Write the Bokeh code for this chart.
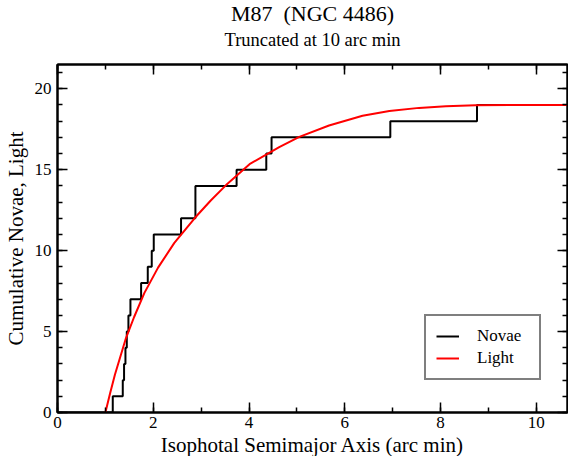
from bokeh.plotting import figure
from bokeh.models import (LinearAxis, SingleIntervalTicker, Title, Legend, LegendItem,
                          Range1d, CustomLabelingPolicy, CustomJSTickFormatter)
from bokeh.embed import file_html
from bokeh.resources import INLINE

# Cumulative novae: radius (arc min) at which each count is reached
novae_x = [1.154, 1.363, 1.39, 1.419, 1.447, 1.481, 1.523, 1.746, 1.885, 1.968,
           2.01, 2.58, 2.88, 2.88, 3.74, 4.36, 4.47, 6.95, 8.76]
novae_n = [1, 2, 3, 4, 5, 6, 7, 8, 9, 10,
           11, 12, 13, 14, 15, 16, 17, 18, 19]

# Cumulative light curve (scaled)
light_x = [1.0, 1.1, 1.2, 1.43, 1.6, 1.815, 2.1, 2.44, 2.88, 3.2, 3.52, 4.01,
           4.63, 5.05, 5.67, 6.37, 6.93, 7.55, 8.11, 8.73, 9.5, 11.0]
light_y = [0.0, 1.2, 2.35, 4.6, 5.9, 7.39, 8.95, 10.48, 12.06, 13.1, 14.05, 15.34,
           16.4, 17.03, 17.73, 18.33, 18.63, 18.82, 18.92, 18.98, 19.0, 19.0]

x_start, x_end = 0.0, 10.65
y_start, y_end = 0.0, 21.5

title_text = "M87\u00a0\u00a0(NGC 4486)"
subtitle_text = "Truncated at 10 arc min"
xlabel_text = "Isophotal Semimajor Axis (arc min)"
ylabel_text = "Cumulative Novae, Light"

FONT = "Liberation Serif"

p = figure(width=568, height=456, output_backend="svg", toolbar_location=None,
           x_range=Range1d(x_start, x_end), y_range=Range1d(y_start, y_end),
           min_border_left=50, min_border_right=1, min_border_top=0, min_border_bottom=0,
           x_axis_location=None, y_axis_location=None,
           title=title_text)
p.grid.visible = False
p.outline_line_color = "black"
p.outline_line_width = 2
p.background_fill_color = "white"
p.border_fill_color = "white"

p.title.text_font = FONT
p.title.text_font_size = "22px"
p.title.text_font_style = "normal"
p.title.text_color = "black"
p.title.align = "center"
p.title.standoff = -4

hide_labels = CustomLabelingPolicy(code="""
    for (const i of indices) indices.unset(i)
    return indices
""")

def style_axis(ax, labels=True):
    ax.axis_line_width = 2
    ax.axis_line_color = "black"
    ax.major_tick_in = 10
    ax.major_tick_out = 0
    ax.minor_tick_in = 5
    ax.minor_tick_out = 0
    ax.major_tick_line_width = 1.5
    ax.minor_tick_line_width = 1.5
    ax.major_tick_line_color = "black"
    ax.minor_tick_line_color = "black"
    ax.major_label_text_font = FONT
    ax.major_label_text_font_size = "17px"
    ax.major_label_text_color = "black"
    ax.axis_label_text_font = FONT
    ax.axis_label_text_font_size = "21px"
    ax.axis_label_text_font_style = "normal"
    ax.axis_label_text_color = "black"
    if not labels:
        ax.formatter = CustomJSTickFormatter(code="return ''")
        ax.major_label_policy = hide_labels
        ax.major_label_standoff = 0
        ax.axis_label_standoff = 0

# mirror axes first (innermost)
xt = LinearAxis(ticker=SingleIntervalTicker(interval=2, num_minor_ticks=2))
style_axis(xt, labels=False)
p.add_layout(xt, "above")

yr = LinearAxis(ticker=SingleIntervalTicker(interval=5, num_minor_ticks=5))
style_axis(yr, labels=False)
p.add_layout(yr, "right")

# invisible spacer between the frame and the subtitle
spacer = LinearAxis(ticker=SingleIntervalTicker(interval=2, num_minor_ticks=0))
style_axis(spacer, labels=False)
spacer.axis_line_color = None
spacer.major_tick_line_color = None
spacer.minor_tick_line_color = None
spacer.major_tick_in = 0
spacer.minor_tick_in = 0
spacer.major_tick_out = 11
p.add_layout(spacer, "above")

p.add_layout(Title(text=subtitle_text, align="center", text_font=FONT,
                   text_font_size="18.5px", text_font_style="normal", text_color="black",
                   standoff=8), "above")

xb = LinearAxis(ticker=SingleIntervalTicker(interval=2, num_minor_ticks=2))
style_axis(xb)
xb.major_label_standoff = 4
p.add_layout(xb, "below")
p.add_layout(Title(text=xlabel_text, align="center", text_font=FONT,
                   text_font_size="21px", text_font_style="normal", text_color="black",
                   standoff=0), "below")

yl = LinearAxis(ticker=SingleIntervalTicker(interval=5, num_minor_ticks=5),
                axis_label=ylabel_text)
style_axis(yl)
yl.major_label_standoff = 6
yl.axis_label_standoff = 4
p.add_layout(yl, "left")

step_x = [0.0] + novae_x + [11.0]
step_y = [0] + novae_n + [novae_n[-1]]
r_nov = p.step(step_x, step_y, mode="after", line_color="black", line_width=2)
r_light = p.line(light_x, light_y, line_color="red", line_width=2)

legend = Legend(items=[LegendItem(label="Novae", renderers=[r_nov]),
                       LegendItem(label="Light", renderers=[r_light])],
                location=(367, 32), padding=10, spacing=2, margin=0,
                glyph_width=23, glyph_height=20, label_height=20, label_width=52,
                label_standoff=18, label_text_font=FONT, label_text_font_size="17px",
                label_text_color="black",
                border_line_color="black", border_line_width=2,
                background_fill_alpha=1.0)
p.add_layout(legend, "center")

open("out.html", "w").write(file_html(p, INLINE))
